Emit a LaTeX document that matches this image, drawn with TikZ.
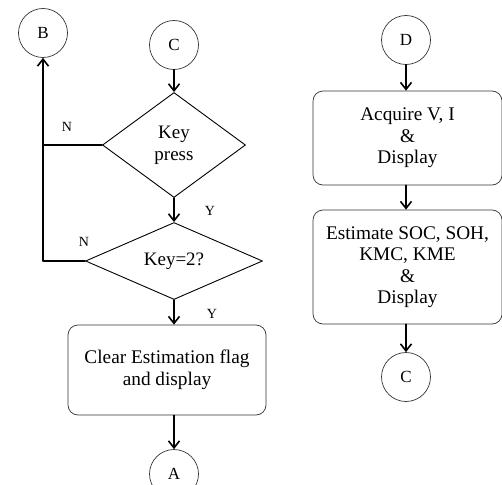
\documentclass[tikz,border=0pt]{standalone}
\usepackage{fontspec}
\setmainfont{Liberation Serif}
\usetikzlibrary{shapes.geometric, arrows.meta, positioning}

\begin{document}
\begin{tikzpicture}[x=1pt, y=-1pt, line join=round, line cap=round,
    conn/.style={draw=black!80, circle, minimum size=49pt, inner sep=0pt, line width=0.7pt, font=\fontsize{17}{20}\selectfont},
    decision/.style={draw, diamond, inner sep=0pt, line width=0.9pt, align=center, font=\fontsize{19}{22}\selectfont},
    process/.style={draw=black!80, rounded corners=10pt, inner sep=0pt, line width=0.7pt, align=center, font=\fontsize{19.3}{21.5}\selectfont},
    flow/.style={line width=1.6pt, -{Straight Barb[length=7pt,width=11pt]}},
    lbl/.style={font=\fontsize{14}{16}\selectfont}]
  \useasboundingbox (0,0) rectangle (502,484);
  % left column
  \node[conn] (B) at (43,33) {B};
  \node[conn] (C1) at (174,45) {C};
  \node[decision, minimum width=143pt, minimum height=105pt] (kp) at (174,145) {Key\\press};
  \node[decision, minimum width=177pt, minimum height=72pt] (k2) at (174,261) {Key=2?};
  \node[process, minimum width=198pt, minimum height=90pt] (clr) at (167,370) {Clear Estimation flag\\and display};
  \node[conn] (A) at (174,474) {A};
  \node[lbl] (n1) at (67,127) {N};
  \node[lbl] (y1) at (210,211) {Y};
  \node[lbl] (n2) at (84,242) {N};
  \node[lbl] (y2) at (212,314) {Y};
  \draw[flow] (C1) -- (kp);
  \draw[flow] (kp) -- (k2);
  \draw[flow] (k2) -- (k2 |- clr.north);
  \draw[flow] (clr.south -| A) -- (A);
  \draw[line width=1.6pt] (kp.west) -- (kp.west -| B);
  \draw[flow] (k2.west) -- (k2.west -| B) -- (B);
  % right column
  \node[conn] (D) at (406,40) {D};
  \node[process, minimum width=189pt, minimum height=94pt] (acq) at (407.5,138) {Acquire V, I\\\&\\Display};
  \node[process, minimum width=189pt, minimum height=114pt] (est) at (407.5,267) {Estimate SOC, SOH,\\KMC, KME\\\&\\Display};
  \node[conn] (C2) at (406,377) {C};
  \draw[flow] (D) -- (D |- acq.north);
  \draw[flow] (D |- acq.south) -- (D |- est.north);
  \draw[flow] (D |- est.south) -- (C2);
\end{tikzpicture}
\end{document}
